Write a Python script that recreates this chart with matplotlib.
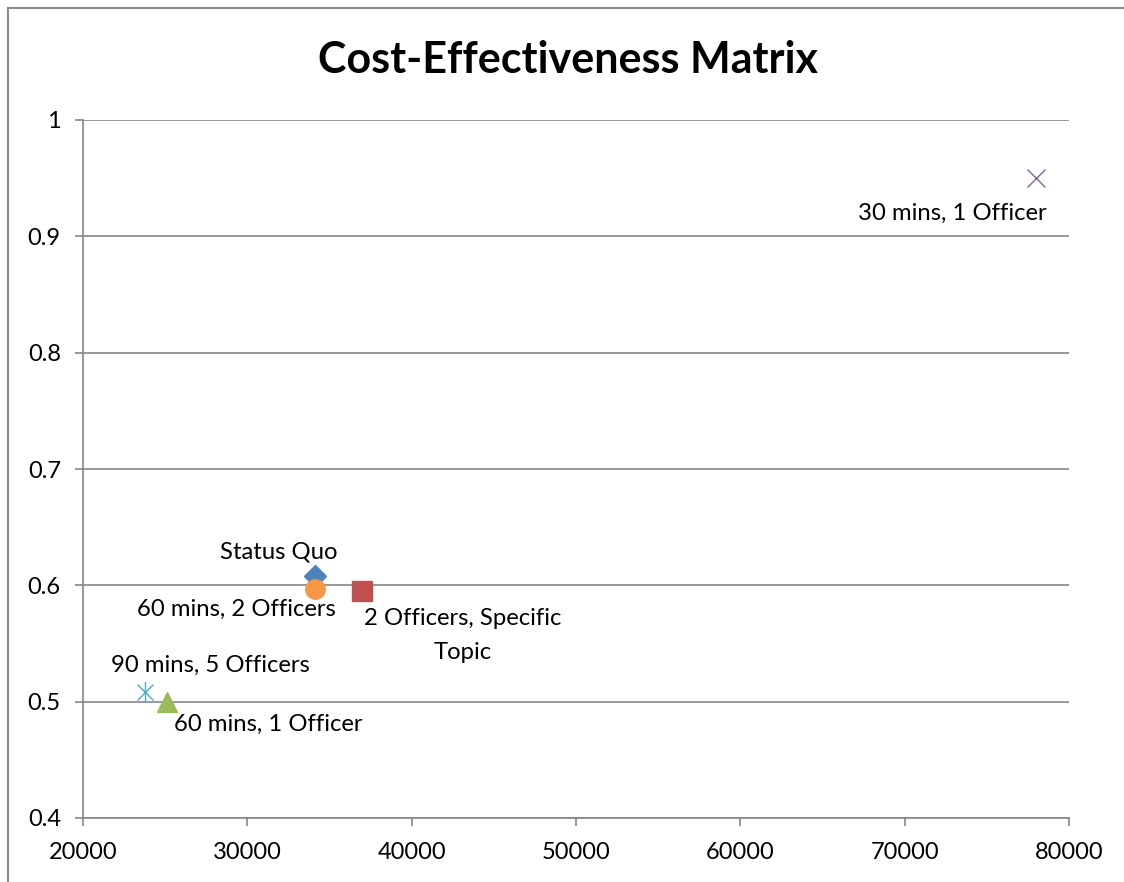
import matplotlib
matplotlib.use('Agg')
import matplotlib.pyplot as plt
from matplotlib.path import Path
from matplotlib.patches import Rectangle
from matplotlib.ticker import FuncFormatter

plt.rcParams['font.family'] = ['Lato', 'DejaVu Sans']

# options: name, cost, effectiveness
labels = ['Status Quo', '2 Officers, Specific\nTopic', '60 mins, 1 Officer',
          '30 mins, 1 Officer', '90 mins, 5 Officers', '60 mins, 2 Officers']
cost = [34100, 37000, 25100, 78000, 23800, 34100]
effect = [0.608, 0.595, 0.500, 0.950, 0.508, 0.597]

colors = ['#4F81BD', '#C0504D', '#9BBB59', '#8064A2', '#4BACC6', '#F79646']

# excel-style star: an x with a vertical stroke through it
star = Path([(-1, -1), (1, 1), (-1, 1), (1, -1), (0, -1.3), (0, 1.3)],
            [Path.MOVETO, Path.LINETO, Path.MOVETO, Path.LINETO, Path.MOVETO, Path.LINETO])
markers = ['D', 's', '^', 'x', star, 'o']
sizes = [11, 14, 14, 13, 15, 14]
# label offsets in pixels (dx, dy) and alignment
offsets = [(-36, 24, 'center', 'center'), (100, -17, 'center', 'top'),
           (101, -23, 'center', 'center'), (-84, -35, 'center', 'center'),
           (65, 27, 'center', 'center'), (-78, -21, 'center', 'center')]

fig = plt.figure(figsize=(11.24, 8.82), dpi=100)
fig.patches.append(Rectangle((8 / 1124, -0.2), 1.2, 1.2 - 8 / 882, transform=fig.transFigure,
                             fill=False, edgecolor='#8c8c8c', linewidth=1.5))
ax = fig.add_axes([83 / 1124, 64 / 882, 986 / 1124, 698 / 882])

for i in range(len(labels)):
    ax.plot(cost[i], effect[i], linestyle='none', marker=markers[i], markersize=sizes[i],
            color=colors[i], markeredgecolor=colors[i], markeredgewidth=1.0, zorder=3)
    dx, dy, ha, va = offsets[i]
    ax.annotate(labels[i], (cost[i], effect[i]), xytext=(dx, dy), textcoords='offset pixels',
                ha=ha, va=va, fontsize=17.2, color='black', linespacing=1.75)

ax.set_xlim(20000, 80000)
ax.set_ylim(0.4, 1.0)
ax.set_xticks(range(20000, 80001, 10000))
ax.set_yticks([0.4, 0.5, 0.6, 0.7, 0.8, 0.9, 1.0])
ax.yaxis.set_major_formatter(FuncFormatter(lambda v, p: '%g' % round(v, 2)))
ax.grid(axis='y', color='#868686', linewidth=1.2)
ax.set_axisbelow(True)
for s in ['top', 'right']:
    ax.spines[s].set_visible(False)
for s in ['left', 'bottom']:
    ax.spines[s].set_color('#868686')
    ax.spines[s].set_linewidth(1.2)
ax.tick_params(axis='both', direction='out', length=6, color='#868686', width=1.2,
               labelsize=17)
ax.tick_params(axis='y', pad=10)
ax.tick_params(axis='x', pad=11)

fig.text(568 / 1124, 1 - 60 / 882, 'Cost-Effectiveness Matrix', ha='center', va='center',
         fontsize=31, fontweight='bold')

fig.savefig('out.png', dpi=100)
